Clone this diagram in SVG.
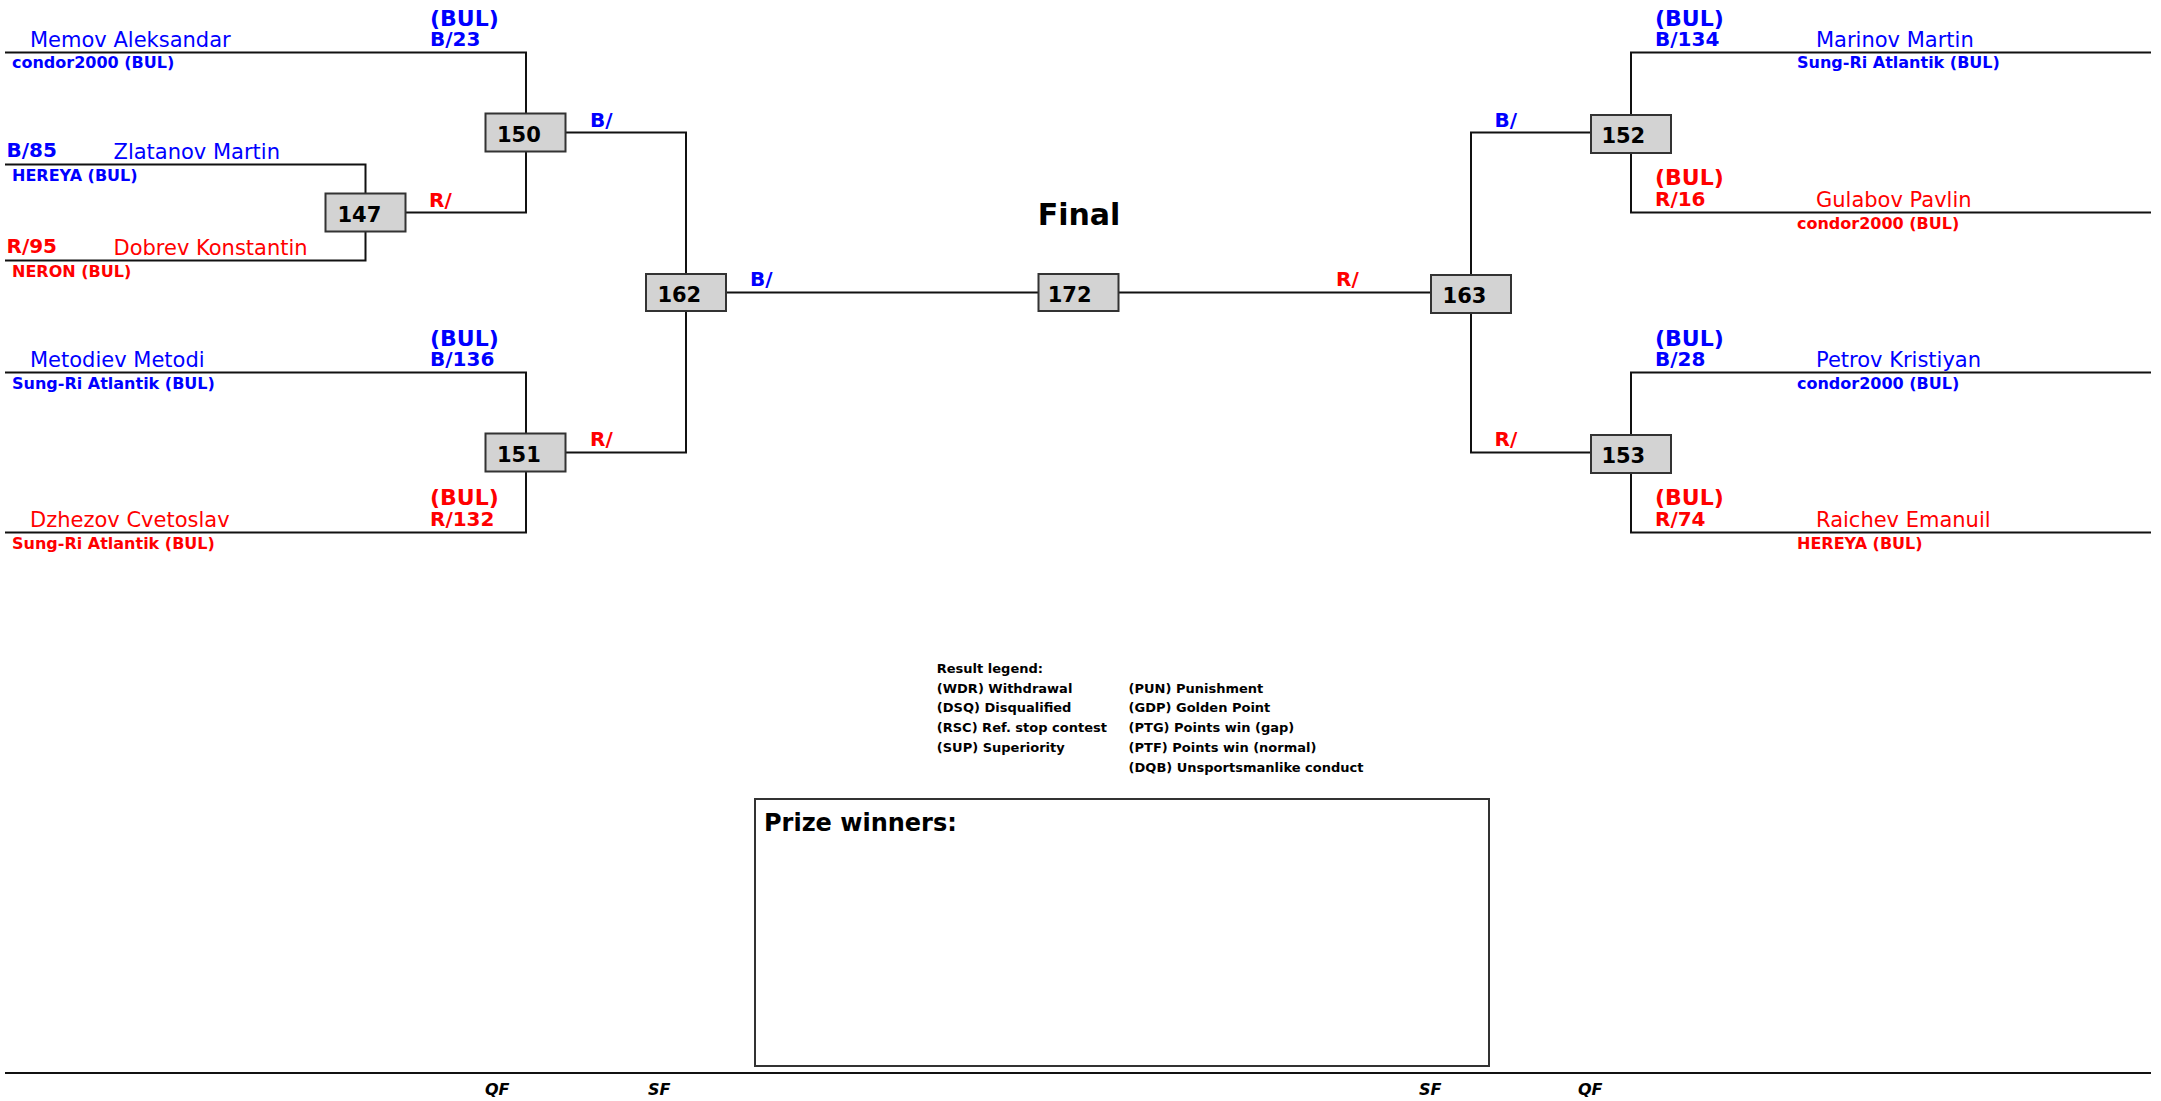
<svg xmlns="http://www.w3.org/2000/svg" width="2161" height="1101" viewBox="0 0 2161 1101">
<style>
text{font-family:"DejaVu Sans","Verdana",sans-serif;}
.b{fill:#0000ff}.r{fill:#ff0000}.k{fill:#000}
.nm{font-size:21px}
.club{font-size:16px;font-weight:bold}
.cty{font-size:22px;font-weight:bold}
.sc{font-size:20px;font-weight:bold}
.num{font-size:21px;font-weight:bold;fill:#000}
.lg{font-size:13px;font-weight:bold;fill:#000}
.rd{font-size:16px;font-weight:bold;font-style:italic;fill:#000}
.ln{fill:none;stroke:#111;stroke-width:2}
.box{fill:#d3d3d3;stroke:#333;stroke-width:2}
</style>
<rect x="0" y="0" width="2161" height="1101" fill="#fff"/>
<g id="connectors" class="ln">
<polyline points="5,52.5 526,52.5 526,113.5"/>
<polyline points="566,132.5 686,132.5 686,274"/>
<polyline points="5,164.5 365.5,164.5 365.5,193.5"/>
<polyline points="405.5,212.5 526,212.5 526,151.5"/>
<polyline points="5,260.5 365.5,260.5 365.5,231.5"/>
<polyline points="5,372.5 526,372.5 526,433.5"/>
<polyline points="566,452.5 686,452.5 686,311"/>
<polyline points="5,532.5 526,532.5 526,471.5"/>
<line x1="726" y1="292.5" x2="1038.5" y2="292.5"/>
<line x1="1118.5" y1="292.5" x2="1431" y2="292.5"/>
<polyline points="1471,275 1471,132.5 1591,132.5"/>
<polyline points="1471,313 1471,452.5 1591,452.5"/>
<polyline points="2151,52.5 1631,52.5 1631,115"/>
<polyline points="2151,212.5 1631,212.5 1631,153"/>
<polyline points="2151,372.5 1631,372.5 1631,435"/>
<polyline points="2151,532.5 1631,532.5 1631,473"/>
<line x1="5" y1="1073" x2="2151" y2="1073"/>
</g>
<g id="n150"><rect class="box" x="485.5" y="113.5" width="80" height="38"/><text class="num" x="497" y="141.7">150</text></g>
<g id="n147"><rect class="box" x="325.5" y="193.5" width="80" height="38"/><text class="num" x="337.5" y="221.7">147</text></g>
<g id="n151"><rect class="box" x="485.5" y="433.5" width="80" height="38"/><text class="num" x="497" y="461.7">151</text></g>
<g id="n162"><rect class="box" x="646" y="274" width="80" height="37"/><text class="num" x="657.4" y="301.7">162</text></g>
<g id="n172"><rect class="box" x="1038.5" y="274" width="80" height="37"/><text class="num" x="1047.7" y="301.7">172</text></g>
<g id="n163"><rect class="box" x="1431" y="275" width="80" height="38"/><text class="num" x="1442.6" y="302.5">163</text></g>
<g id="n152"><rect class="box" x="1591" y="115" width="80" height="38"/><text class="num" x="1601.4" y="142.5">152</text></g>
<g id="n153"><rect class="box" x="1591" y="435" width="80" height="38"/><text class="num" x="1601.4" y="462.5">153</text></g>
<g id="labels">
<text class="cty b" x="430" y="26">(BUL)</text>
<text class="sc b" x="430" y="46">B/23</text>
<text class="nm b" x="30" y="47">Memov Aleksandar</text>
<text class="club b" x="12" y="67.5">condor2000 (BUL)</text>
<text class="sc b" x="6.5" y="156.5">B/85</text>
<text class="nm b" x="113.5" y="159">Zlatanov Martin</text>
<text class="club b" x="12" y="181">HEREYA (BUL)</text>
<text class="sc r" x="6.5" y="253">R/95</text>
<text class="nm r" x="113.5" y="255">Dobrev Konstantin</text>
<text class="club r" x="12" y="276.5">NERON (BUL)</text>
<text class="cty b" x="430" y="346">(BUL)</text>
<text class="sc b" x="430" y="366">B/136</text>
<text class="nm b" x="30" y="366.5">Metodiev Metodi</text>
<text class="club b" x="12" y="389">Sung-Ri Atlantik (BUL)</text>
<text class="cty r" x="430" y="505">(BUL)</text>
<text class="sc r" x="430" y="526">R/132</text>
<text class="nm r" x="30" y="526.5">Dzhezov Cvetoslav</text>
<text class="club r" x="12" y="549">Sung-Ri Atlantik (BUL)</text>
<text class="sc b" x="590" y="126.5">B/</text>
<text class="sc r" x="429" y="206.5">R/</text>
<text class="sc r" x="590" y="446">R/</text>
<text class="sc b" x="750" y="286">B/</text>
<text class="sc r" x="1336" y="286">R/</text>
<text class="k" x="1079" y="225" font-size="30" font-weight="bold" text-anchor="middle">Final</text>
<text class="cty b" x="1655" y="26">(BUL)</text>
<text class="sc b" x="1655" y="45.7">B/134</text>
<text class="nm b" x="1816" y="46.7">Marinov Martin</text>
<text class="club b" x="1797" y="68">Sung-Ri Atlantik (BUL)</text>
<text class="sc b" x="1494.6" y="126.5">B/</text>
<text class="cty r" x="1655" y="185">(BUL)</text>
<text class="sc r" x="1655" y="205.7">R/16</text>
<text class="nm r" x="1816" y="206.7">Gulabov Pavlin</text>
<text class="club r" x="1797" y="229">condor2000 (BUL)</text>
<text class="sc r" x="1494.6" y="446">R/</text>
<text class="cty b" x="1655" y="346">(BUL)</text>
<text class="sc b" x="1655" y="366">B/28</text>
<text class="nm b" x="1816" y="366.7">Petrov Kristiyan</text>
<text class="club b" x="1797" y="389">condor2000 (BUL)</text>
<text class="cty r" x="1655" y="505">(BUL)</text>
<text class="sc r" x="1655" y="526">R/74</text>
<text class="nm r" x="1816" y="526.7">Raichev Emanuil</text>
<text class="club r" x="1797" y="549">HEREYA (BUL)</text>
</g>
<g id="legend">
<text class="lg" x="936.8" y="672.7">Result legend:</text>
<text class="lg" x="936.8" y="692.7">(WDR) Withdrawal</text>
<text class="lg" x="936.8" y="712.4">(DSQ) Disqualified</text>
<text class="lg" x="936.8" y="732.1">(RSC) Ref. stop contest</text>
<text class="lg" x="936.8" y="751.8">(SUP) Superiority</text>
<text class="lg" x="1128.6" y="692.7">(PUN) Punishment</text>
<text class="lg" x="1128.6" y="712.4">(GDP) Golden Point</text>
<text class="lg" x="1128.6" y="732.1">(PTG) Points win (gap)</text>
<text class="lg" x="1128.6" y="751.8">(PTF) Points win (normal)</text>
<text class="lg" x="1128.6" y="771.5">(DQB) Unsportsmanlike conduct</text>
</g>
<g id="prize">
<rect x="755" y="799" width="734" height="267" fill="none" stroke="#333" stroke-width="2"/>
<text class="k" x="764" y="830.5" font-size="24" font-weight="bold">Prize winners:</text>
</g>
<g id="rounds">
<text class="rd" x="485" y="1095">QF</text>
<text class="rd" x="648" y="1095">SF</text>
<text class="rd" x="1419" y="1095">SF</text>
<text class="rd" x="1578" y="1095">QF</text>
</g>
</svg>
